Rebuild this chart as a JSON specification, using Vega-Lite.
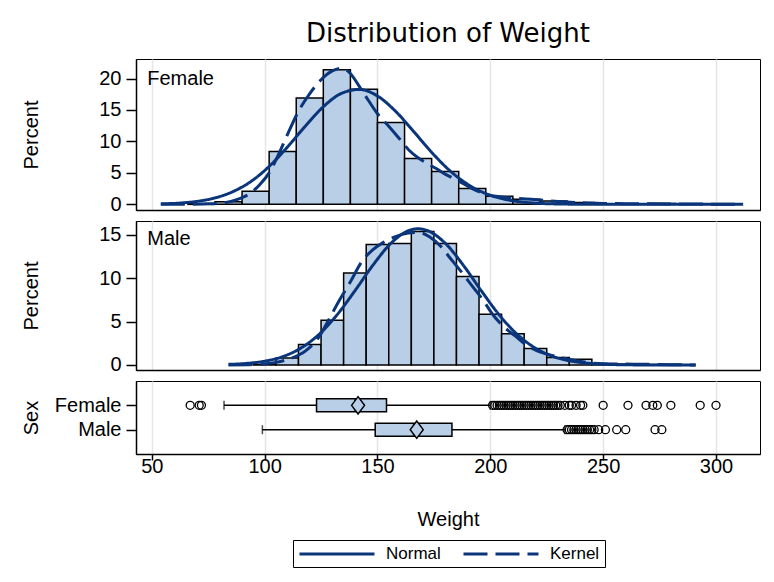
{
  "$schema": "https://vega.github.io/schema/vega-lite/v6.json",
  "padding": {"left": 20, "top": 20, "right": 13, "bottom": 14},
  "spacing": 11,
  "bounds": "flush",
  "config": {
    "font": "Liberation Sans",
    "view": {"stroke": "#000", "strokeWidth": 1},
    "axis": {
      "labelFontSize": 20, "titleFontSize": 20, "labelColor": "#000", "titleColor": "#000",
      "titleFontWeight": "normal", "domainColor": "#000", "tickColor": "#000",
      "domainWidth": 1.5, "tickWidth": 1.5, "gridColor": "#e6e6e6", "gridWidth": 1.5,
      "labelFont": "Liberation Sans", "titleFont": "Liberation Sans", "labelOverlap": false
    }
  },
  "datasets": {
    "hist": [
      {"sex": "Female", "lo": 66, "hi": 78, "pct": 0.1},
      {"sex": "Female", "lo": 78, "hi": 90, "pct": 0.4},
      {"sex": "Female", "lo": 90, "hi": 102, "pct": 2.1},
      {"sex": "Female", "lo": 102, "hi": 114, "pct": 8.4},
      {"sex": "Female", "lo": 114, "hi": 126, "pct": 16.9},
      {"sex": "Female", "lo": 126, "hi": 138, "pct": 21.4},
      {"sex": "Female", "lo": 138, "hi": 150, "pct": 18.3},
      {"sex": "Female", "lo": 150, "hi": 162, "pct": 13.0},
      {"sex": "Female", "lo": 162, "hi": 174, "pct": 7.3},
      {"sex": "Female", "lo": 174, "hi": 186, "pct": 5.2},
      {"sex": "Female", "lo": 186, "hi": 198, "pct": 2.5},
      {"sex": "Female", "lo": 198, "hi": 210, "pct": 1.3},
      {"sex": "Female", "lo": 210, "hi": 222, "pct": 0.8},
      {"sex": "Female", "lo": 222, "hi": 234, "pct": 0.55},
      {"sex": "Female", "lo": 234, "hi": 246, "pct": 0.3},
      {"sex": "Female", "lo": 246, "hi": 258, "pct": 0.07},
      {"sex": "Female", "lo": 258, "hi": 270, "pct": 0.07},
      {"sex": "Female", "lo": 270, "hi": 282, "pct": 0.14},
      {"sex": "Female", "lo": 282, "hi": 294, "pct": 0.03},
      {"sex": "Female", "lo": 294, "hi": 306, "pct": 0.07},
      {"sex": "Male", "lo": 95, "hi": 105, "pct": 0.05},
      {"sex": "Male", "lo": 105, "hi": 115, "pct": 0.8},
      {"sex": "Male", "lo": 115, "hi": 125, "pct": 2.35},
      {"sex": "Male", "lo": 125, "hi": 135, "pct": 5.15},
      {"sex": "Male", "lo": 135, "hi": 145, "pct": 10.6},
      {"sex": "Male", "lo": 145, "hi": 155, "pct": 13.9},
      {"sex": "Male", "lo": 155, "hi": 165, "pct": 14.0},
      {"sex": "Male", "lo": 165, "hi": 175, "pct": 15.4},
      {"sex": "Male", "lo": 175, "hi": 185, "pct": 14.0},
      {"sex": "Male", "lo": 185, "hi": 195, "pct": 10.2},
      {"sex": "Male", "lo": 195, "hi": 205, "pct": 5.85},
      {"sex": "Male", "lo": 205, "hi": 215, "pct": 3.6},
      {"sex": "Male", "lo": 215, "hi": 225, "pct": 1.9},
      {"sex": "Male", "lo": 225, "hi": 235, "pct": 0.85},
      {"sex": "Male", "lo": 235, "hi": 245, "pct": 0.65},
      {"sex": "Male", "lo": 245, "hi": 255, "pct": 0.15},
      {"sex": "Male", "lo": 255, "hi": 265, "pct": 0.1},
      {"sex": "Male", "lo": 265, "hi": 275, "pct": 0.05},
      {"sex": "Male", "lo": 275, "hi": 285, "pct": 0.05}
    ],
    "curves": [
      {"sex": "Female", "curve": "Normal", "w": 54, "pct": 0.07},
      {"sex": "Female", "curve": "Normal", "w": 62, "pct": 0.19},
      {"sex": "Female", "curve": "Normal", "w": 70, "pct": 0.47},
      {"sex": "Female", "curve": "Normal", "w": 78, "pct": 1.02},
      {"sex": "Female", "curve": "Normal", "w": 86, "pct": 2.03},
      {"sex": "Female", "curve": "Normal", "w": 94, "pct": 3.65},
      {"sex": "Female", "curve": "Normal", "w": 102, "pct": 6.03},
      {"sex": "Female", "curve": "Normal", "w": 110, "pct": 9.07},
      {"sex": "Female", "curve": "Normal", "w": 118, "pct": 12.43},
      {"sex": "Female", "curve": "Normal", "w": 126, "pct": 15.51},
      {"sex": "Female", "curve": "Normal", "w": 134, "pct": 17.63},
      {"sex": "Female", "curve": "Normal", "w": 142, "pct": 18.26},
      {"sex": "Female", "curve": "Normal", "w": 150, "pct": 17.22},
      {"sex": "Female", "curve": "Normal", "w": 158, "pct": 14.8},
      {"sex": "Female", "curve": "Normal", "w": 166, "pct": 11.59},
      {"sex": "Female", "curve": "Normal", "w": 174, "pct": 8.27},
      {"sex": "Female", "curve": "Normal", "w": 182, "pct": 5.37},
      {"sex": "Female", "curve": "Normal", "w": 190, "pct": 3.18},
      {"sex": "Female", "curve": "Normal", "w": 198, "pct": 1.71},
      {"sex": "Female", "curve": "Normal", "w": 206, "pct": 0.84},
      {"sex": "Female", "curve": "Normal", "w": 214, "pct": 0.38},
      {"sex": "Female", "curve": "Normal", "w": 222, "pct": 0.15},
      {"sex": "Female", "curve": "Normal", "w": 230, "pct": 0.06},
      {"sex": "Female", "curve": "Normal", "w": 240, "pct": 0.02},
      {"sex": "Female", "curve": "Normal", "w": 260, "pct": 0.0},
      {"sex": "Female", "curve": "Normal", "w": 290, "pct": 0.0},
      {"sex": "Female", "curve": "Normal", "w": 312, "pct": 0.0},
      {"sex": "Female", "curve": "Kernel", "w": 54, "pct": 0.0},
      {"sex": "Female", "curve": "Kernel", "w": 65, "pct": 0.02},
      {"sex": "Female", "curve": "Kernel", "w": 75, "pct": 0.08},
      {"sex": "Female", "curve": "Kernel", "w": 82, "pct": 0.25},
      {"sex": "Female", "curve": "Kernel", "w": 88, "pct": 0.8},
      {"sex": "Female", "curve": "Kernel", "w": 93, "pct": 1.6},
      {"sex": "Female", "curve": "Kernel", "w": 98, "pct": 3.2},
      {"sex": "Female", "curve": "Kernel", "w": 102, "pct": 5.0},
      {"sex": "Female", "curve": "Kernel", "w": 106, "pct": 7.8},
      {"sex": "Female", "curve": "Kernel", "w": 110, "pct": 11.0},
      {"sex": "Female", "curve": "Kernel", "w": 115, "pct": 14.8},
      {"sex": "Female", "curve": "Kernel", "w": 120, "pct": 17.6},
      {"sex": "Female", "curve": "Kernel", "w": 125, "pct": 19.8},
      {"sex": "Female", "curve": "Kernel", "w": 130, "pct": 21.2},
      {"sex": "Female", "curve": "Kernel", "w": 134, "pct": 21.6},
      {"sex": "Female", "curve": "Kernel", "w": 138, "pct": 20.8},
      {"sex": "Female", "curve": "Kernel", "w": 142, "pct": 18.7},
      {"sex": "Female", "curve": "Kernel", "w": 146, "pct": 16.5},
      {"sex": "Female", "curve": "Kernel", "w": 150, "pct": 14.4},
      {"sex": "Female", "curve": "Kernel", "w": 155, "pct": 12.4},
      {"sex": "Female", "curve": "Kernel", "w": 160, "pct": 10.3},
      {"sex": "Female", "curve": "Kernel", "w": 164, "pct": 8.6},
      {"sex": "Female", "curve": "Kernel", "w": 168, "pct": 7.4},
      {"sex": "Female", "curve": "Kernel", "w": 172, "pct": 6.5},
      {"sex": "Female", "curve": "Kernel", "w": 176, "pct": 5.7},
      {"sex": "Female", "curve": "Kernel", "w": 180, "pct": 4.8},
      {"sex": "Female", "curve": "Kernel", "w": 186, "pct": 3.7},
      {"sex": "Female", "curve": "Kernel", "w": 192, "pct": 2.5},
      {"sex": "Female", "curve": "Kernel", "w": 198, "pct": 1.6},
      {"sex": "Female", "curve": "Kernel", "w": 204, "pct": 1.2},
      {"sex": "Female", "curve": "Kernel", "w": 210, "pct": 1.0},
      {"sex": "Female", "curve": "Kernel", "w": 216, "pct": 0.85},
      {"sex": "Female", "curve": "Kernel", "w": 222, "pct": 0.7},
      {"sex": "Female", "curve": "Kernel", "w": 230, "pct": 0.45},
      {"sex": "Female", "curve": "Kernel", "w": 240, "pct": 0.25},
      {"sex": "Female", "curve": "Kernel", "w": 250, "pct": 0.15},
      {"sex": "Female", "curve": "Kernel", "w": 260, "pct": 0.1},
      {"sex": "Female", "curve": "Kernel", "w": 270, "pct": 0.08},
      {"sex": "Female", "curve": "Kernel", "w": 280, "pct": 0.06},
      {"sex": "Female", "curve": "Kernel", "w": 290, "pct": 0.04},
      {"sex": "Female", "curve": "Kernel", "w": 300, "pct": 0.03},
      {"sex": "Female", "curve": "Kernel", "w": 312, "pct": 0.01},
      {"sex": "Male", "curve": "Normal", "w": 84, "pct": 0.07},
      {"sex": "Male", "curve": "Normal", "w": 92, "pct": 0.18},
      {"sex": "Male", "curve": "Normal", "w": 100, "pct": 0.44},
      {"sex": "Male", "curve": "Normal", "w": 108, "pct": 0.96},
      {"sex": "Male", "curve": "Normal", "w": 116, "pct": 1.94},
      {"sex": "Male", "curve": "Normal", "w": 124, "pct": 3.51},
      {"sex": "Male", "curve": "Normal", "w": 132, "pct": 5.76},
      {"sex": "Male", "curve": "Normal", "w": 140, "pct": 8.56},
      {"sex": "Male", "curve": "Normal", "w": 148, "pct": 11.52},
      {"sex": "Male", "curve": "Normal", "w": 156, "pct": 14.05},
      {"sex": "Male", "curve": "Normal", "w": 164, "pct": 15.52},
      {"sex": "Male", "curve": "Normal", "w": 168, "pct": 15.71},
      {"sex": "Male", "curve": "Normal", "w": 172, "pct": 15.52},
      {"sex": "Male", "curve": "Normal", "w": 180, "pct": 14.05},
      {"sex": "Male", "curve": "Normal", "w": 188, "pct": 11.52},
      {"sex": "Male", "curve": "Normal", "w": 196, "pct": 8.56},
      {"sex": "Male", "curve": "Normal", "w": 204, "pct": 5.76},
      {"sex": "Male", "curve": "Normal", "w": 212, "pct": 3.51},
      {"sex": "Male", "curve": "Normal", "w": 220, "pct": 1.94},
      {"sex": "Male", "curve": "Normal", "w": 228, "pct": 0.96},
      {"sex": "Male", "curve": "Normal", "w": 236, "pct": 0.44},
      {"sex": "Male", "curve": "Normal", "w": 244, "pct": 0.18},
      {"sex": "Male", "curve": "Normal", "w": 252, "pct": 0.07},
      {"sex": "Male", "curve": "Normal", "w": 260, "pct": 0.02},
      {"sex": "Male", "curve": "Normal", "w": 272, "pct": 0.0},
      {"sex": "Male", "curve": "Normal", "w": 291, "pct": 0.0},
      {"sex": "Male", "curve": "Kernel", "w": 84, "pct": 0.0},
      {"sex": "Male", "curve": "Kernel", "w": 95, "pct": 0.05},
      {"sex": "Male", "curve": "Kernel", "w": 105, "pct": 0.3},
      {"sex": "Male", "curve": "Kernel", "w": 112, "pct": 0.8},
      {"sex": "Male", "curve": "Kernel", "w": 118, "pct": 1.6},
      {"sex": "Male", "curve": "Kernel", "w": 124, "pct": 3.2},
      {"sex": "Male", "curve": "Kernel", "w": 129, "pct": 5.5},
      {"sex": "Male", "curve": "Kernel", "w": 133, "pct": 7.4},
      {"sex": "Male", "curve": "Kernel", "w": 138, "pct": 9.6},
      {"sex": "Male", "curve": "Kernel", "w": 143, "pct": 11.9},
      {"sex": "Male", "curve": "Kernel", "w": 148, "pct": 13.3},
      {"sex": "Male", "curve": "Kernel", "w": 153, "pct": 14.2},
      {"sex": "Male", "curve": "Kernel", "w": 158, "pct": 14.8},
      {"sex": "Male", "curve": "Kernel", "w": 163, "pct": 15.2},
      {"sex": "Male", "curve": "Kernel", "w": 168, "pct": 15.3},
      {"sex": "Male", "curve": "Kernel", "w": 173, "pct": 14.8},
      {"sex": "Male", "curve": "Kernel", "w": 178, "pct": 13.7},
      {"sex": "Male", "curve": "Kernel", "w": 182, "pct": 12.4},
      {"sex": "Male", "curve": "Kernel", "w": 187, "pct": 10.8},
      {"sex": "Male", "curve": "Kernel", "w": 192, "pct": 9.1},
      {"sex": "Male", "curve": "Kernel", "w": 197, "pct": 7.4},
      {"sex": "Male", "curve": "Kernel", "w": 201, "pct": 5.85},
      {"sex": "Male", "curve": "Kernel", "w": 206, "pct": 4.4},
      {"sex": "Male", "curve": "Kernel", "w": 211, "pct": 3.35},
      {"sex": "Male", "curve": "Kernel", "w": 216, "pct": 2.3},
      {"sex": "Male", "curve": "Kernel", "w": 221, "pct": 1.6},
      {"sex": "Male", "curve": "Kernel", "w": 226, "pct": 1.2},
      {"sex": "Male", "curve": "Kernel", "w": 232, "pct": 0.8},
      {"sex": "Male", "curve": "Kernel", "w": 238, "pct": 0.5},
      {"sex": "Male", "curve": "Kernel", "w": 244, "pct": 0.25},
      {"sex": "Male", "curve": "Kernel", "w": 250, "pct": 0.15},
      {"sex": "Male", "curve": "Kernel", "w": 260, "pct": 0.1},
      {"sex": "Male", "curve": "Kernel", "w": 270, "pct": 0.07},
      {"sex": "Male", "curve": "Kernel", "w": 280, "pct": 0.04},
      {"sex": "Male", "curve": "Kernel", "w": 291, "pct": 0.0}
    ],
    "labels": [
      {"sex": "Female", "w": 48, "pct": 20},
      {"sex": "Male", "w": 48, "pct": 14.5}
    ],
    "box": [
      {"sex": "Female", "lw": 82, "q1": 123, "med": 140, "q3": 154, "uw": 200, "mean": 141.4},
      {"sex": "Male", "lw": 99, "q1": 149, "med": 166, "q3": 183, "uw": 233, "mean": 167.4}
    ],
    "out": [
      {"sex": "Female", "w": 67}, {"sex": "Female", "w": 71}, {"sex": "Female", "w": 72},
      {"sex": "Female", "w": 201}, {"sex": "Female", "w": 202}, {"sex": "Female", "w": 203},
      {"sex": "Female", "w": 204}, {"sex": "Female", "w": 205}, {"sex": "Female", "w": 206},
      {"sex": "Female", "w": 207}, {"sex": "Female", "w": 208}, {"sex": "Female", "w": 209},
      {"sex": "Female", "w": 210}, {"sex": "Female", "w": 211}, {"sex": "Female", "w": 212},
      {"sex": "Female", "w": 213}, {"sex": "Female", "w": 214}, {"sex": "Female", "w": 215},
      {"sex": "Female", "w": 216}, {"sex": "Female", "w": 217}, {"sex": "Female", "w": 218},
      {"sex": "Female", "w": 219}, {"sex": "Female", "w": 220}, {"sex": "Female", "w": 221},
      {"sex": "Female", "w": 222}, {"sex": "Female", "w": 223}, {"sex": "Female", "w": 224},
      {"sex": "Female", "w": 225}, {"sex": "Female", "w": 226}, {"sex": "Female", "w": 227},
      {"sex": "Female", "w": 228}, {"sex": "Female", "w": 229}, {"sex": "Female", "w": 230},
      {"sex": "Female", "w": 231}, {"sex": "Female", "w": 233}, {"sex": "Female", "w": 235},
      {"sex": "Female", "w": 236}, {"sex": "Female", "w": 238}, {"sex": "Female", "w": 240},
      {"sex": "Female", "w": 241}, {"sex": "Female", "w": 250}, {"sex": "Female", "w": 261},
      {"sex": "Female", "w": 269}, {"sex": "Female", "w": 272}, {"sex": "Female", "w": 274},
      {"sex": "Female", "w": 280}, {"sex": "Female", "w": 293}, {"sex": "Female", "w": 300},
      {"sex": "Male", "w": 234}, {"sex": "Male", "w": 235}, {"sex": "Male", "w": 236},
      {"sex": "Male", "w": 237}, {"sex": "Male", "w": 238}, {"sex": "Male", "w": 239},
      {"sex": "Male", "w": 240}, {"sex": "Male", "w": 241}, {"sex": "Male", "w": 242},
      {"sex": "Male", "w": 243}, {"sex": "Male", "w": 244}, {"sex": "Male", "w": 245},
      {"sex": "Male", "w": 246}, {"sex": "Male", "w": 248}, {"sex": "Male", "w": 251},
      {"sex": "Male", "w": 256}, {"sex": "Male", "w": 260}, {"sex": "Male", "w": 273},
      {"sex": "Male", "w": 276}
    ]
  },
  "vconcat": [
    {
      "width": 624,
      "height": 151,
      "title": {"text": "Distribution of Weight", "font": "DejaVu Sans", "fontSize": 26, "fontWeight": "normal", "anchor": "middle", "frame": "group", "baseline": "alphabetic", "offset": -9, "color": "#000"},
      "encoding": {
        "y": {"field": "pct", "type": "quantitative", "scale": {"domain": [-0.9, 23.1], "nice": false, "zero": false},
          "axis": {"title": "Percent", "values": [0, 5, 10, 15, 20], "tickCount": 5, "tickSize": 10, "labelPadding": 5, "titleX": -99, "titleBaseline": "alphabetic", "grid": false, "labelOverlap": false}}
      },
      "layer": [
        {
          "data": {"name": "hist"},
          "transform": [{"filter": "datum.sex == 'Female'"}],
          "mark": {"type": "bar", "fill": "#b9cfe8", "stroke": "#000", "strokeWidth": 1.5},
          "encoding": {
            "x": {"field": "lo", "type": "quantitative", "scale": {"domain": [43, 319.5], "nice": false, "zero": false},
              "axis": {"title": null, "labels": false, "ticks": false, "grid": true, "values": [50, 100, 150, 200, 250, 300]}},
            "x2": {"field": "hi"},
            "y2": {"datum": 0}
          }
        },
        {
          "data": {"name": "curves"},
          "transform": [{"filter": "datum.sex == 'Female'"}],
          "mark": {"type": "line", "stroke": "#0a357a", "strokeWidth": 3, "interpolate": "monotone"},
          "encoding": {
            "x": {"field": "w", "type": "quantitative"},
            "strokeDash": {"field": "curve", "type": "nominal", "scale": {"domain": ["Normal", "Kernel"], "range": [[1, 0], [24, 8]]},
              "legend": {"title": null, "orient": "none", "legendX": 157, "legendY": 481, "direction": "horizontal",
                "symbolType": "M-1,0H9", "symbolSize": 225, "symbolStrokeWidth": 3, "symbolStrokeColor": "#0a357a", "symbolFillColor": "transparent",
                "labelFontSize": 17, "labelColor": "#000", "labelOffset": 70, "columnPadding": 16, "strokeColor": "#000", "padding": 5}}
          }
        },
        {
          "data": {"name": "labels"},
          "transform": [{"filter": "datum.sex == 'Female'"}],
          "mark": {"type": "text", "align": "left", "baseline": "middle", "fontSize": 20, "color": "#000"},
          "encoding": {
            "x": {"field": "w", "type": "quantitative"},
            "text": {"field": "sex"}
          }
        }
      ]
    },
    {
      "width": 624,
      "height": 149,
      "encoding": {
        "y": {"field": "pct", "type": "quantitative", "scale": {"domain": [-0.58, 16.61], "nice": false, "zero": false},
          "axis": {"title": "Percent", "values": [0, 5, 10, 15], "tickCount": 4, "tickSize": 10, "labelPadding": 5, "titleX": -99, "titleBaseline": "alphabetic", "grid": false, "labelOverlap": false}}
      },
      "layer": [
        {
          "data": {"name": "hist"},
          "transform": [{"filter": "datum.sex == 'Male'"}],
          "mark": {"type": "bar", "fill": "#b9cfe8", "stroke": "#000", "strokeWidth": 1.5},
          "encoding": {
            "x": {"field": "lo", "type": "quantitative", "scale": {"domain": [43, 319.5], "nice": false, "zero": false},
              "axis": {"title": null, "labels": false, "ticks": false, "grid": true, "values": [50, 100, 150, 200, 250, 300]}},
            "x2": {"field": "hi"},
            "y2": {"datum": 0}
          }
        },
        {
          "data": {"name": "curves"},
          "transform": [{"filter": "datum.sex == 'Male'"}],
          "mark": {"type": "line", "stroke": "#0a357a", "strokeWidth": 3, "interpolate": "monotone"},
          "encoding": {
            "x": {"field": "w", "type": "quantitative"},
            "strokeDash": {"field": "curve", "type": "nominal", "scale": {"domain": ["Normal", "Kernel"], "range": [[1, 0], [24, 8]]}}
          }
        },
        {
          "data": {"name": "labels"},
          "transform": [{"filter": "datum.sex == 'Male'"}],
          "mark": {"type": "text", "align": "left", "baseline": "middle", "fontSize": 20, "color": "#000"},
          "encoding": {
            "x": {"field": "w", "type": "quantitative"},
            "text": {"field": "sex"}
          }
        }
      ]
    },
    {
      "width": 624,
      "height": 73,
      "encoding": {
        "y": {"field": "sex", "type": "nominal", "scale": {"type": "point", "domain": ["Female", "Male"], "padding": 1},
          "axis": {"title": "Sex", "tickSize": 10, "labelPadding": 5, "titleX": -99, "titleBaseline": "alphabetic", "grid": false, "labelOverlap": false}}
      },
      "layer": [
        {
          "data": {"name": "box"},
          "mark": {"type": "rule", "stroke": "#000", "strokeWidth": 1.5},
          "encoding": {
            "x": {"field": "lw", "type": "quantitative", "scale": {"domain": [43, 319.5], "nice": false, "zero": false},
              "axis": {"title": "Weight", "values": [50, 100, 150, 200, 250, 300], "tickSize": 6, "labelPadding": -4, "titlePadding": 33, "grid": true, "labelOverlap": false}},
            "x2": {"field": "uw"}
          }
        },
        {
          "data": {"name": "box"},
          "mark": {"type": "tick", "color": "#000", "thickness": 1.5, "size": 9},
          "encoding": {"x": {"field": "lw", "type": "quantitative"}}
        },
        {
          "data": {"name": "box"},
          "mark": {"type": "tick", "color": "#000", "thickness": 1.5, "size": 9},
          "encoding": {"x": {"field": "uw", "type": "quantitative"}}
        },
        {
          "data": {"name": "box"},
          "mark": {"type": "bar", "fill": "#b9cfe8", "stroke": "#000", "strokeWidth": 1.5, "size": 13},
          "encoding": {"x": {"field": "q1", "type": "quantitative"}, "x2": {"field": "q3"}}
        },
        {
          "data": {"name": "box"},
          "mark": {"type": "tick", "color": "#000", "thickness": 1.5, "size": 13},
          "encoding": {"x": {"field": "med", "type": "quantitative"}}
        },
        {
          "data": {"name": "box"},
          "mark": {"type": "point", "shape": "M-0.75,0L0,-1L0.75,0L0,1Z", "filled": true, "fill": "#b9cfe8", "stroke": "#000", "strokeWidth": 1.5, "size": 300, "opacity": 1},
          "encoding": {"x": {"field": "mean", "type": "quantitative"}}
        },
        {
          "data": {"name": "out"},
          "mark": {"type": "point", "shape": "circle", "filled": false, "stroke": "#000", "strokeWidth": 1.3, "size": 64, "opacity": 1},
          "encoding": {"x": {"field": "w", "type": "quantitative"}}
        }
      ]
    }
  ]
}
